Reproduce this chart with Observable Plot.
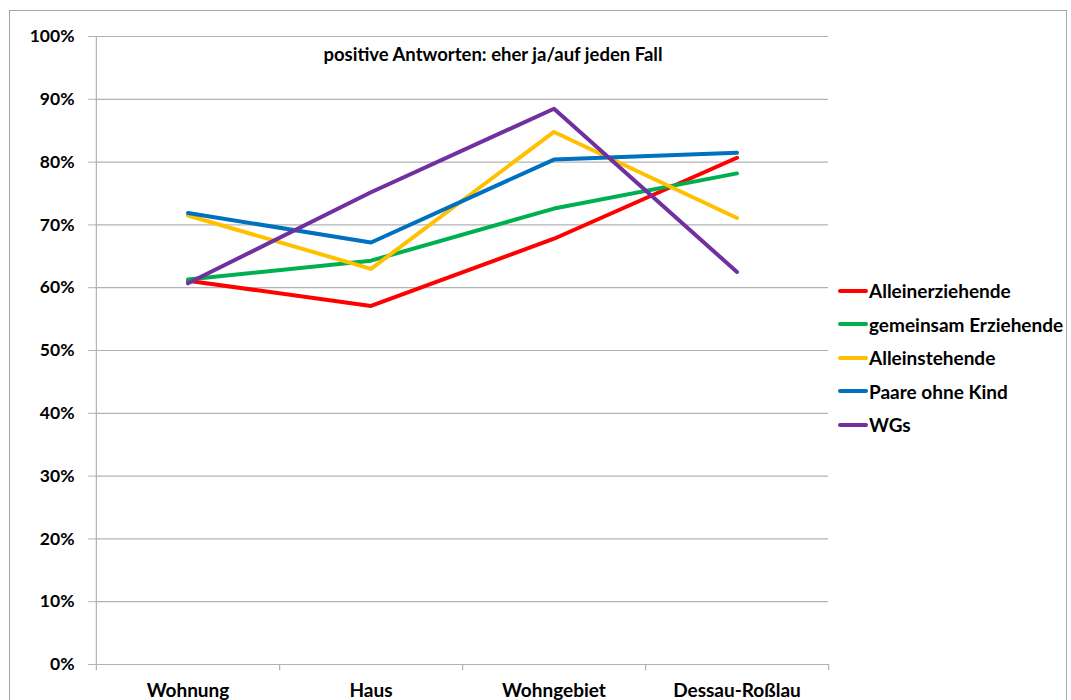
<!DOCTYPE html>
<html><head><meta charset="utf-8">
<script src="https://cdn.jsdelivr.net/npm/d3@7"></script>
<script src="https://cdn.jsdelivr.net/npm/@observablehq/plot@0.6"></script>
<style>
body{margin:0;background:#fff;font-family:Lato,"Open Sans",sans-serif;}
#wrap{position:relative;width:1071px;height:700px;overflow:hidden;}
#border{position:absolute;left:9px;top:10px;width:1058px;height:720px;border:1px solid #a6a6a6;box-sizing:border-box;}
#title{position:absolute;left:0;width:986px;top:43px;text-align:center;font-weight:bold;font-size:18.5px;color:#000;}
#legend{position:absolute;left:838px;top:274px;}
.item{display:flex;align-items:center;height:33.5px;font-weight:bold;font-size:19px;color:#000;white-space:nowrap;}
.sw{width:30px;height:4px;margin-right:1px;border-radius:2px;}
svg{position:absolute;left:0;top:0;}
</style></head>
<body><div id="wrap"><div id="border"></div><div id="chart"></div><div id="title">positive Antworten: eher ja/auf jeden Fall</div><div id="legend"></div></div>
<script>
const categories = ["Wohnung", "Haus", "Wohngebiet", "Dessau-Roßlau"];
const seriesNames = ["Alleinerziehende", "gemeinsam Erziehende", "Alleinstehende", "Paare ohne Kind", "WGs"];
const colors = ["#ff0000", "#00b050", "#ffc000", "#0070c0", "#7030a0"];
const alleinerziehende = [0.611, 0.571, 0.678, 0.807];
const gemeinsamErziehende = [0.613, 0.643, 0.726, 0.782];
const alleinstehende = [0.715, 0.630, 0.848, 0.711];
const paareOhneKind = [0.719, 0.672, 0.804, 0.815];
const wgs = [0.607, 0.752, 0.885, 0.625];
const yTicks = [0, 0.1, 0.2, 0.3, 0.4, 0.5, 0.6, 0.7, 0.8, 0.9, 1.0];

const allSeries = [alleinerziehende, gemeinsamErziehende, alleinstehende, paareOhneKind, wgs];
const data = [];
allSeries.forEach((vals, si) => vals.forEach((v, i) => data.push({series: seriesNames[si], cat: categories[i], value: v})));

const W = 1071, H = 700, mL = 95, mR = 243, mT = 36, mB = 36;
const bw = (W - mL - mR) / categories.length;
const grid = "#b3b3b3";

const chart = Plot.plot({
  width: W, height: H,
  marginLeft: mL, marginRight: mR, marginTop: mT, marginBottom: mB,
  style: {fontFamily: "Lato, 'Open Sans', sans-serif", fontWeight: "bold", fontSize: "17px", color: "#000", background: "transparent"},
  x: {type: "band", domain: categories, padding: 0, label: null},
  y: {domain: [0, 1], label: null},
  color: {domain: seriesNames, range: colors},
  marks: [
    Plot.ruleY(yTicks, {y: d => d, stroke: grid, strokeWidth: 1.2}),
    Plot.ruleX([categories[0]], {x: d => d, dx: -bw / 2, y1: -0.01, y2: 1, stroke: grid, strokeWidth: 1.2}),
    Plot.ruleX(categories, {x: d => d, dx: bw / 2, y1: -0.01, y2: 0, stroke: grid, strokeWidth: 1.2}),
    Plot.axisY({ticks: yTicks, tickFormat: d3.format(".0%"), tickSize: 7, tickPadding: 14, stroke: grid, fontSize: 17.5}),
    Plot.axisX({tickSize: 0, tickPadding: 19, fontSize: 19}),
    Plot.line(data, {x: "cat", y: "value", z: "series", stroke: "series", strokeWidth: 4, strokeLinejoin: "round", strokeLinecap: "round"})
  ]
});
document.getElementById("chart").appendChild(chart);

const lg = document.getElementById("legend");
seriesNames.forEach((n, i) => {
  const d = document.createElement("div");
  d.className = "item";
  d.innerHTML = `<span class="sw" style="background:${colors[i]}"></span><span>${n}</span>`;
  lg.appendChild(d);
});
</script></body></html>
